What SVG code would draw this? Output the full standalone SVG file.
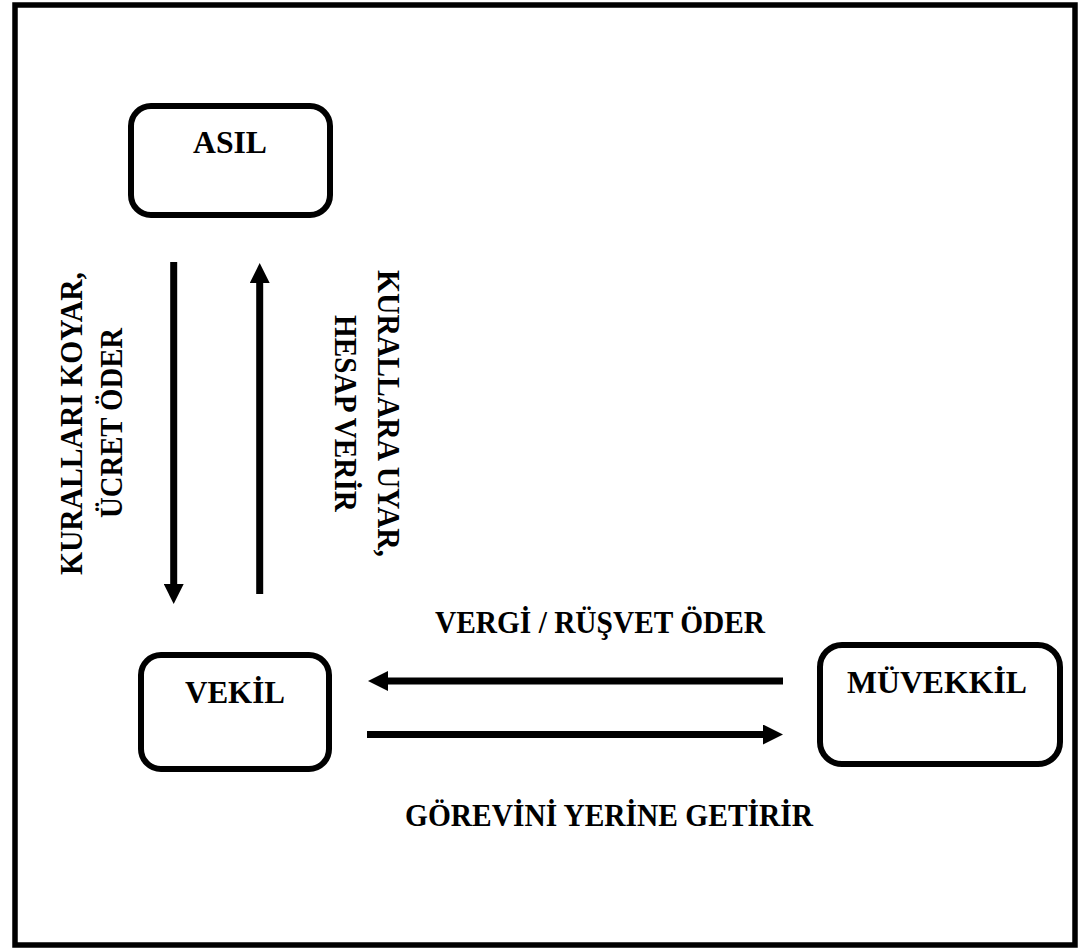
<svg xmlns="http://www.w3.org/2000/svg" width="1078" height="949" viewBox="0 0 1078 949">
  <style>
    .box { fill: #ffffff; stroke: #000000; stroke-width: 6; }
    .lbl { font-family: "Liberation Serif", "Times New Roman", serif; font-weight: bold; font-size: 32px; fill: #000000; text-anchor: middle; }
    .vlbl { font-family: "Liberation Serif", "Times New Roman", serif; font-weight: bold; font-size: 31px; fill: #000000; text-anchor: middle; }
    .conn { stroke: #000000; stroke-width: 7; fill: none; }
  </style>
  <defs>
    <marker id="head" markerUnits="userSpaceOnUse" markerWidth="20" markerHeight="20" refX="0" refY="10" orient="auto">
      <path d="M0,0 L20,10 L0,20 Z" fill="#000000"/>
    </marker>
  </defs>
  <rect x="0" y="0" width="1078" height="949" fill="#ffffff"/>
  <rect id="frame" x="15" y="5" width="1060" height="940" fill="none" stroke="#000000" stroke-width="5.5"/>

  <g id="asil">
    <rect class="box" x="131" y="106" width="199" height="109" rx="20" ry="20"/>
    <text class="lbl" x="230" y="153" textLength="74" lengthAdjust="spacingAndGlyphs">ASIL</text>
  </g>
  <g id="vekil">
    <rect class="box" x="141" y="655" width="188" height="114" rx="20" ry="20"/>
    <text class="lbl" x="235" y="703" textLength="100" lengthAdjust="spacingAndGlyphs">VEKİL</text>
  </g>
  <g id="muvekkil">
    <rect class="box" x="820" y="645" width="240" height="119" rx="22" ry="22"/>
    <text class="lbl" x="937" y="693" textLength="180" lengthAdjust="spacingAndGlyphs">MÜVEKKİL</text>
  </g>

  <g id="connectors">
    <line class="conn" x1="173.7" y1="262" x2="173.7" y2="584" marker-end="url(#head)"/>
    <line class="conn" x1="259.7" y1="594" x2="259.7" y2="283" marker-end="url(#head)"/>
    <line class="conn" x1="783" y1="681" x2="388" y2="681" marker-end="url(#head)"/>
    <line class="conn" x1="367" y1="734.5" x2="763" y2="734.5" marker-end="url(#head)"/>
  </g>

  <g id="labels">
    <text class="vlbl" transform="translate(82,423.5) rotate(-90)" x="0" y="0" textLength="303" lengthAdjust="spacingAndGlyphs">KURALLARI KOYAR,</text>
    <text class="vlbl" transform="translate(122,423) rotate(-90)" x="0" y="0" textLength="190" lengthAdjust="spacingAndGlyphs">ÜCRET ÖDER</text>
    <text class="vlbl" transform="translate(378,413.5) rotate(90)" x="0" y="0" textLength="287" lengthAdjust="spacingAndGlyphs">KURALLARA UYAR,</text>
    <text class="vlbl" transform="translate(335,413.5) rotate(90)" x="0" y="0" textLength="197" lengthAdjust="spacingAndGlyphs">HESAP VERİR</text>
    <text class="lbl" x="600" y="633" textLength="330" lengthAdjust="spacingAndGlyphs">VERGİ / RÜŞVET ÖDER</text>
    <text class="lbl" x="609" y="826" textLength="408" lengthAdjust="spacingAndGlyphs">GÖREVİNİ YERİNE GETİRİR</text>
  </g>
</svg>
